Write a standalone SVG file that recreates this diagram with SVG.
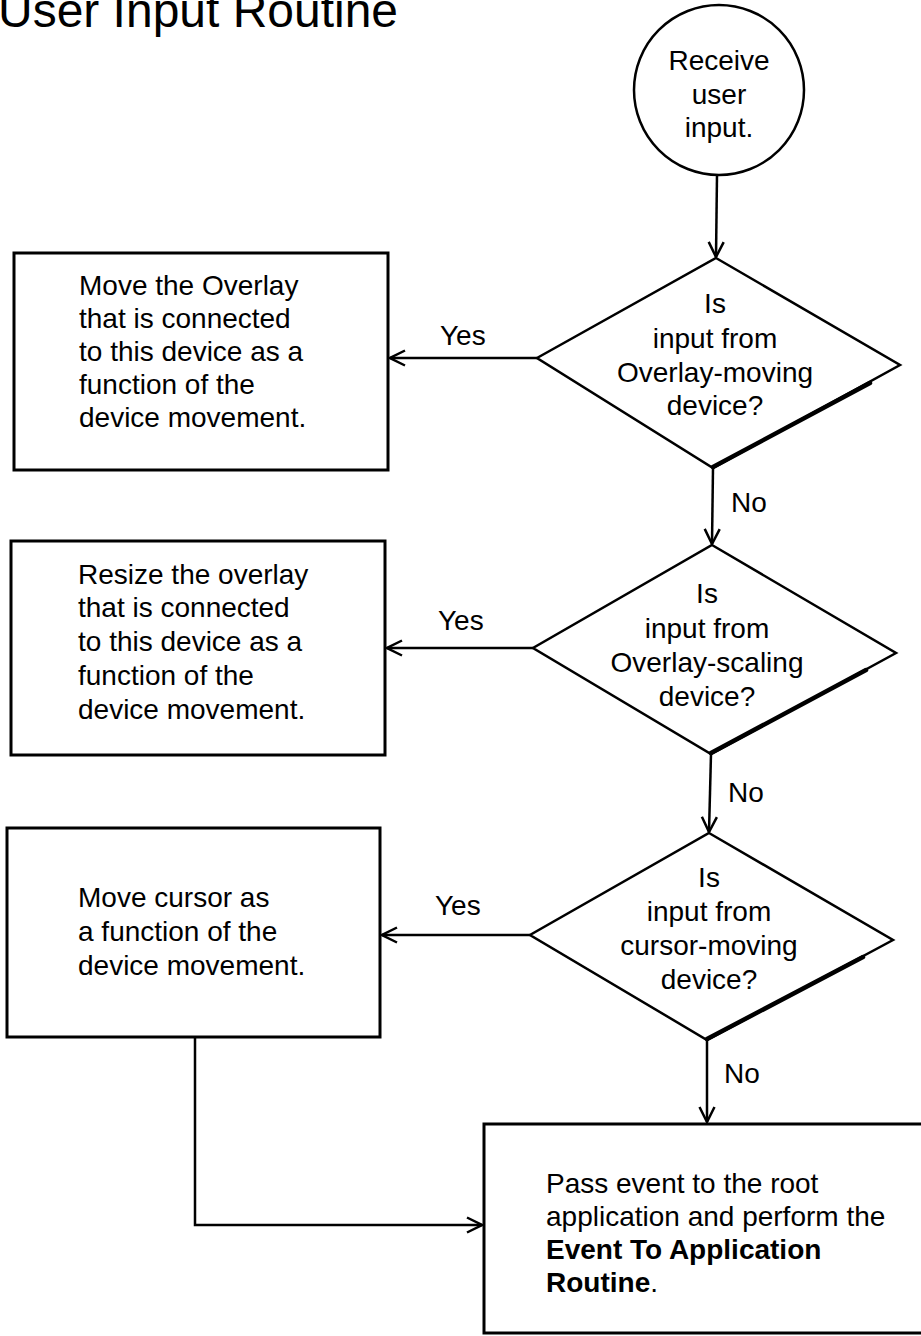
<svg xmlns="http://www.w3.org/2000/svg" width="921" height="1336" viewBox="0 0 921 1336">
<style>
  text { font-family: "Liberation Sans", Arial, sans-serif; font-size: 28px; fill: #000; }
  .title { font-size: 48px; }
  .c { text-anchor: middle; }
  .shape { fill: #fff; stroke: #000; stroke-width: 2.5; }
  .box { fill: #fff; stroke: #000; stroke-width: 3; }
  .heavy { fill: none; stroke: #000; stroke-width: 4.5; stroke-linecap: round; }
  .conn { fill: none; stroke: #000; stroke-width: 2.5; }
  .b { font-weight: bold; }
</style>
<defs>
  <marker id="arrow" viewBox="-17 -10 19 20" refX="0" refY="0" markerWidth="19" markerHeight="20" markerUnits="userSpaceOnUse" orient="auto">
    <path d="M-15,-7.5 L0,0 L-15,7.5" fill="none" stroke="#000" stroke-width="2.5" stroke-linejoin="miter"/>
  </marker>
</defs>
<rect x="0" y="0" width="921" height="1336" fill="#fff"/>

<text class="title" x="-2" y="27" textLength="400" lengthAdjust="spacingAndGlyphs">User Input Routine</text>

<g id="connectors">
  <line class="conn" x1="717" y1="175" x2="716" y2="257" marker-end="url(#arrow)"/>
  <line class="conn" x1="537" y1="358" x2="390" y2="358" marker-end="url(#arrow)"/>
  <line class="conn" x1="713" y1="468" x2="712" y2="544" marker-end="url(#arrow)"/>
  <line class="conn" x1="533" y1="648" x2="387" y2="648" marker-end="url(#arrow)"/>
  <line class="conn" x1="711" y1="754" x2="709" y2="832" marker-end="url(#arrow)"/>
  <line class="conn" x1="530" y1="935" x2="382" y2="935" marker-end="url(#arrow)"/>
  <line class="conn" x1="707" y1="1040" x2="707" y2="1122" marker-end="url(#arrow)"/>
  <polyline class="conn" points="195,1038 195,1225 482,1225" marker-end="url(#arrow)"/>
  <text x="440" y="345">Yes</text>
  <text x="731" y="512">No</text>
  <text x="438" y="630">Yes</text>
  <text x="728" y="802">No</text>
  <text x="435" y="915">Yes</text>
  <text x="724" y="1083">No</text>
</g>

<g id="start">
  <circle class="shape" cx="719" cy="90" r="85"/>
  <text class="c" x="719" y="70">Receive</text>
  <text class="c" x="719" y="104">user</text>
  <text class="c" x="719" y="137">input.</text>
</g>

<g id="decision1">
  <polygon class="shape" points="716,258 900,365 713,468 537,358"/>
  <line class="heavy" x1="870" y1="383" x2="713" y2="467"/>
  <text class="c" x="715" y="313">Is</text>
  <text class="c" x="715" y="348">input from</text>
  <text class="c" x="715" y="382">Overlay-moving</text>
  <text class="c" x="715" y="415">device?</text>
</g>

<g id="box1">
  <rect class="box" x="14" y="253" width="374" height="217"/>
  <text x="79" y="295">Move the Overlay</text>
  <text x="79" y="328">that is connected</text>
  <text x="79" y="361">to this device as a</text>
  <text x="79" y="394">function of the</text>
  <text x="79" y="427">device movement.</text>
</g>

<g id="decision2">
  <polygon class="shape" points="712,545 896,653 711,754 533,648"/>
  <line class="heavy" x1="866" y1="670" x2="711" y2="753"/>
  <text class="c" x="707" y="603">Is</text>
  <text class="c" x="707" y="638">input from</text>
  <text class="c" x="707" y="672">Overlay-scaling</text>
  <text class="c" x="707" y="706">device?</text>
</g>

<g id="box2">
  <rect class="box" x="11" y="541" width="374" height="214"/>
  <text x="78" y="584">Resize the overlay</text>
  <text x="78" y="617">that is connected</text>
  <text x="78" y="651">to this device as a</text>
  <text x="78" y="685">function of the</text>
  <text x="78" y="719">device movement.</text>
</g>

<g id="decision3">
  <polygon class="shape" points="709,833 893,940 707,1040 530,935"/>
  <line class="heavy" x1="863" y1="957" x2="707" y2="1039"/>
  <text class="c" x="709" y="887">Is</text>
  <text class="c" x="709" y="921">input from</text>
  <text class="c" x="709" y="955">cursor-moving</text>
  <text class="c" x="709" y="989">device?</text>
</g>

<g id="box3">
  <rect class="box" x="7" y="828" width="373" height="209"/>
  <text x="78" y="907">Move cursor as</text>
  <text x="78" y="941">a function of the</text>
  <text x="78" y="975">device movement.</text>
</g>

<g id="box4">
  <rect class="box" x="484" y="1124" width="460" height="209"/>
  <text x="546" y="1193">Pass event to the root</text>
  <text x="546" y="1226">application and perform the</text>
  <text x="546" y="1259" class="b">Event To Application</text>
  <text x="546" y="1292"><tspan class="b">Routine</tspan>.</text>
</g>
</svg>
